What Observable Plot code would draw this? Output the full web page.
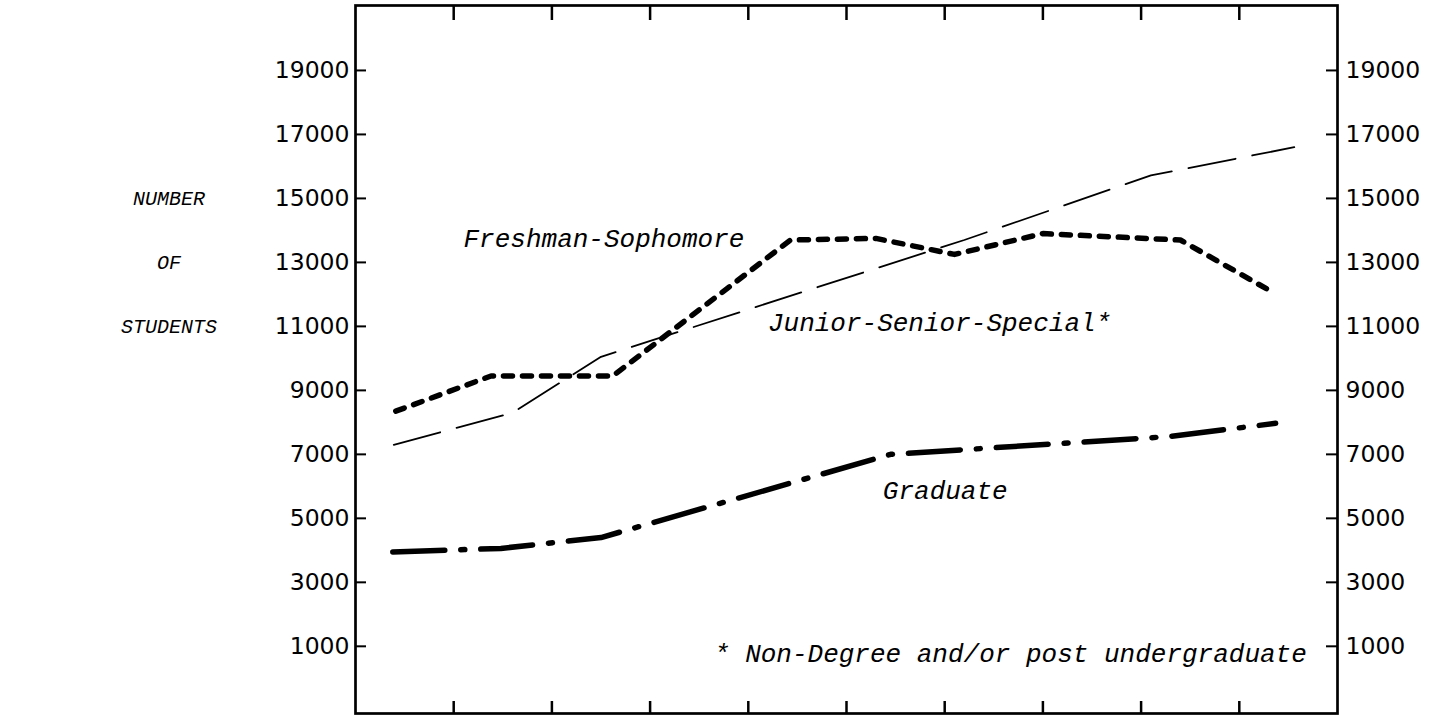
<!DOCTYPE html>
<html>
<head>
<meta charset="utf-8">
<script src="https://cdn.jsdelivr.net/npm/d3@7"></script>
<script src="https://cdn.jsdelivr.net/npm/@observablehq/plot@0.6"></script>
<style>
  html, body { margin: 0; padding: 0; background: #fff; }
  #chart svg { display: block; }
</style>
</head>
<body>
<div id="chart"></div>
<script>
// x positions are in "tick interval" units (frame spans 0..10, inner ticks at 1..9)
const xTicks = [1, 2, 3, 4, 5, 6, 7, 8, 9];
const yTicks = [1000, 3000, 5000, 7000, 9000, 11000, 13000, 15000, 17000, 19000];

// Freshman-Sophomore (heavy short dashes)
const freshX = [0.41, 1.38, 2.62, 4.43, 5.3, 6.1, 7.0, 8.4, 9.35];
const freshY = [8350, 9450, 9450, 13700, 13750, 13250, 13900, 13700, 12050];

// Junior-Senior-Special* (thin long dashes)
const juniorX = [0.39, 1.6, 2.5, 6.2, 8.1, 9.56];
const juniorY = [7300, 8300, 10050, 13700, 15720, 16600];

// Graduate (heavy dash-dot)
const gradX = [0.38, 1.48, 2.5, 5.45, 8.3, 9.37];
const gradY = [3950, 4060, 4400, 7000, 7560, 7970];

const sideLabels = ["NUMBER", "OF", "STUDENTS"];
const sideLabelY = [15000, 13000, 11000];

const annotations = [
  {text: "Freshman-Sophomore", x: 1.1, y: 13750},
  {text: "Junior-Senior-Special*", x: 4.2, y: 11125},
  {text: "Graduate", x: 5.37, y: 5875},
  {text: "* Non-Degree and/or post undergraduate", x: 3.65, y: 780}
];

const toRows = (xs, ys) => xs.map((x, i) => ({x, y: ys[i]}));
const fresh = toRows(freshX, freshY);
const junior = toRows(juniorX, juniorY);
const grad = toRows(gradX, gradY);
const side = sideLabels.map((t, i) => ({text: t, y: sideLabelY[i]}));

const W = 1438, H = 718;
const mL = 355, mR = 101, mT = 5, mB = 5;
const innerW = W - mL - mR, innerH = H - mT - mB;

const chart = Plot.plot({
  width: W,
  height: H,
  marginLeft: mL,
  marginRight: mR,
  marginTop: mT,
  marginBottom: mB,
  style: {background: "#fff", color: "#000"},
  x: {domain: [0, 10], axis: null},
  y: {domain: [-1100, 21030], axis: null},
  marks: [
    Plot.frame({stroke: "#000", strokeWidth: 2.7}),
    // inward ticks: top, bottom
    Plot.tickX(xTicks, {x: d => d, stroke: "#000", strokeWidth: 2.5, insetBottom: innerH - 15}),
    Plot.tickX(xTicks, {x: d => d, stroke: "#000", strokeWidth: 2.5, insetTop: innerH - 12}),
    // inward ticks: left, right
    Plot.tickY(yTicks, {y: d => d, stroke: "#000", strokeWidth: 2, insetRight: innerW - 11}),
    Plot.tickY(yTicks, {y: d => d, stroke: "#000", strokeWidth: 2, insetLeft: innerW - 11}),
    // tick labels
    Plot.text(yTicks, {x: 0, y: d => d, text: d => String(d), textAnchor: "end", dx: -6,
      fontFamily: "DejaVu Sans", fontSize: 23.5, fill: "#000"}),
    Plot.text(yTicks, {x: 10, y: d => d, text: d => String(d), textAnchor: "start", dx: 8,
      fontFamily: "DejaVu Sans", fontSize: 23.5, fill: "#000"}),
    // lines
    Plot.line(junior, {x: "x", y: "y", stroke: "#000", strokeWidth: 1.8,
      strokeDasharray: "48 17"}),
    Plot.line(fresh, {x: "x", y: "y", stroke: "#000", strokeWidth: 5.5,
      strokeDasharray: "9 10", strokeLinecap: "round"}),
    Plot.line(grad, {x: "x", y: "y", stroke: "#000", strokeWidth: 5.5,
      strokeDasharray: "52 16 4 16", strokeLinecap: "round"}),
    // side title
    Plot.text(side, {x: -1.9, y: "y", text: "text", textAnchor: "middle",
      fontFamily: "Liberation Mono", fontStyle: "italic", fontSize: 20, fill: "#000"}),
    // annotations
    Plot.text(annotations, {x: "x", y: "y", text: "text", textAnchor: "start",
      fontFamily: "Liberation Mono", fontStyle: "italic", fontSize: 26, fill: "#000"})
  ]
});

document.getElementById("chart").appendChild(chart);
</script>
</body>
</html>
